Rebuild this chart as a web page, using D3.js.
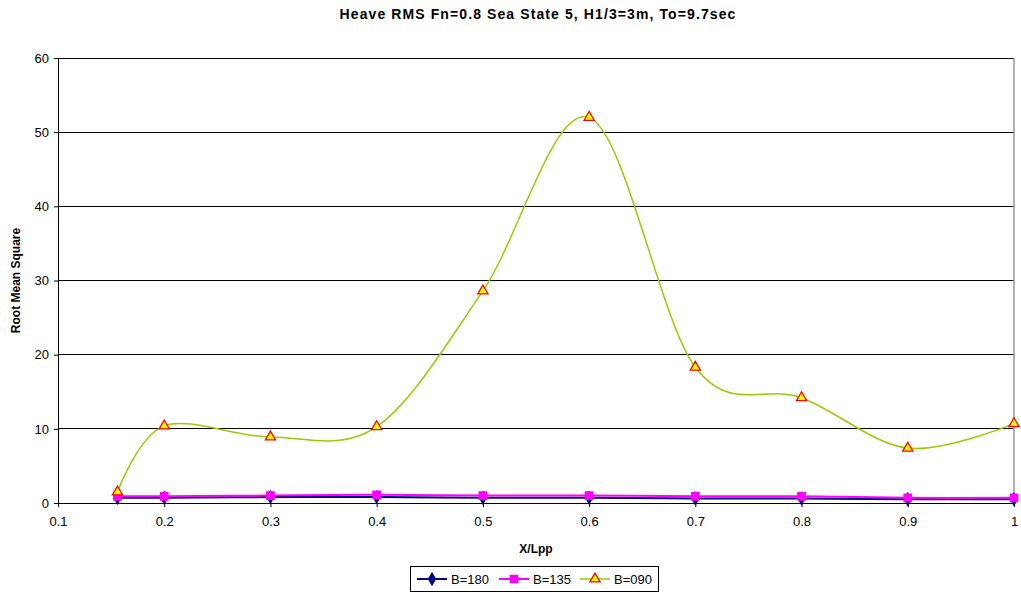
<!DOCTYPE html>
<html><head><meta charset="utf-8">
<script src="https://cdn.jsdelivr.net/npm/d3@7"></script>
<style>body{margin:0;background:#fff;}svg{display:block;font-family:Arial,"Liberation Sans",sans-serif;}</style>
</head><body><svg id="c" width="1021" height="602"></svg>
<script>
const xVals = [0.156, 0.2, 0.3, 0.4, 0.5, 0.6, 0.7, 0.8, 0.9, 1.0];
const b180 = [0.7, 0.7, 0.8, 0.8, 0.7, 0.7, 0.6, 0.6, 0.5, 0.5];
const b135 = [0.9, 0.9, 1.0, 1.1, 1.0, 1.0, 0.9, 0.9, 0.7, 0.7];
const b090 = [1.5, 10.4, 8.9, 10.3, 28.6, 52.0, 18.3, 14.2, 7.4, 10.7];
const xTicks = [0.1, 0.2, 0.3, 0.4, 0.5, 0.6, 0.7, 0.8, 0.9, 1];
const yTicks = [0, 10, 20, 30, 40, 50, 60];
const seriesNames = ["B=180", "B=135", "B=090"];

const svg = d3.select("#c");
const L = 58, R = 1014, T = 58, B = 503;
const x = d3.scaleLinear().domain([0.1, 1]).range([L, R]);
const y = d3.scaleLinear().domain([0, 60]).range([B, T]);

// gridlines
svg.append("g").selectAll("line").data(yTicks.slice(1)).join("line")
  .attr("x1", L).attr("x2", R).attr("y1", d => y(d)).attr("y2", d => y(d))
  .attr("stroke", "#000").attr("stroke-width", 1).attr("shape-rendering", "crispEdges");
// right border
svg.append("line").attr("x1", R).attr("x2", R).attr("y1", T).attr("y2", B)
  .attr("stroke", "#999").attr("stroke-width", 1.5);

// axes
const xAxis = svg.append("g").attr("transform", `translate(0,${B})`)
  .call(d3.axisBottom(x).tickValues(xTicks).tickSize(4).tickSizeOuter(0).tickFormat(d => d3.format("")(+d.toFixed(1))));
xAxis.select(".domain").attr("stroke", "#000");
xAxis.selectAll(".tick line").attr("stroke", "#000");
xAxis.selectAll("text").attr("font-size", 13).attr("dy", "1.25em").attr("fill", "#000");

const yAxis = svg.append("g").attr("transform", `translate(${L},0)`)
  .call(d3.axisLeft(y).tickValues(yTicks).tickSize(4).tickSizeOuter(0));
yAxis.select(".domain").attr("stroke", "#000");
yAxis.selectAll(".tick line").attr("stroke", "#000");
yAxis.selectAll("text").attr("font-size", 13).attr("x", -9).attr("fill", "#000");

// titles
svg.append("text").attr("x", 538).attr("y", 19).attr("text-anchor", "middle")
  .attr("font-size", 14).attr("letter-spacing", 1.1).attr("font-weight", "bold").text("Heave RMS Fn=0.8 Sea State 5, H1/3=3m, To=9.7sec");
svg.append("text").attr("x", 536).attr("y", 553).attr("text-anchor", "middle")
  .attr("font-size", 12).attr("font-weight", "bold").text("X/Lpp");
svg.append("text").attr("transform", `translate(20,${(T + B) / 2}) rotate(-90)`).attr("text-anchor", "middle")
  .attr("font-size", 12).attr("font-weight", "bold").text("Root Mean Square");

const line = d3.line().x((d, i) => x(xVals[i])).y(d => y(d)).curve(d3.curveCardinal.tension(0));
const colors = ["#000080", "#FF00FF", "#99CC00"];
const dataSets = [b180, b135, b090];

[2, 0, 1].forEach(k => {
  svg.append("path").datum(dataSets[k]).attr("d", line).attr("fill", "none")
    .attr("stroke", colors[k]).attr("stroke-width", k === 2 ? 1.5 : 2);
});

const diamond = d3.symbol().type(d3.symbolDiamond).size(40);
const square = d3.symbol().type(d3.symbolSquare).size(55);
const tri = d3.symbol().type(d3.symbolTriangle).size(45);

function drawMarkers(vals, gen, fill, stroke) {
  svg.append("g").selectAll("path").data(vals).join("path")
    .attr("d", gen).attr("transform", (d, i) => `translate(${x(xVals[i])},${y(d)})`)
    .attr("fill", fill).attr("stroke", stroke).attr("stroke-width", 1.3);
}
drawMarkers(b180, diamond, "#000080", "#000080");
drawMarkers(b135, square, "#FF00FF", "#FF00FF");
drawMarkers(b090, tri, "#FFFF00", "#FF0000");

// legend
const lg = svg.append("g");
lg.append("rect").attr("x", 410.5).attr("y", 566.5).attr("width", 248).attr("height", 25)
  .attr("fill", "#fff").attr("stroke", "#000");
const gens = [diamond, square, tri];
const fills = ["#000080", "#FF00FF", "#FFFF00"];
const strokes = ["#000080", "#FF00FF", "#FF0000"];
const lx = [417, 499, 580];
seriesNames.forEach((n, i) => {
  lg.append("line").attr("x1", lx[i]).attr("x2", lx[i] + 30).attr("y1", 579).attr("y2", 579)
    .attr("stroke", colors[i]).attr("stroke-width", i === 2 ? 1.5 : 2);
  lg.append("path").attr("d", gens[i]).attr("transform", `translate(${lx[i] + 15},579)`)
    .attr("fill", fills[i]).attr("stroke", strokes[i]).attr("stroke-width", 1.3);
  lg.append("text").attr("x", lx[i] + 34).attr("y", 584).attr("font-size", 13).text(n);
});
</script></body></html>
